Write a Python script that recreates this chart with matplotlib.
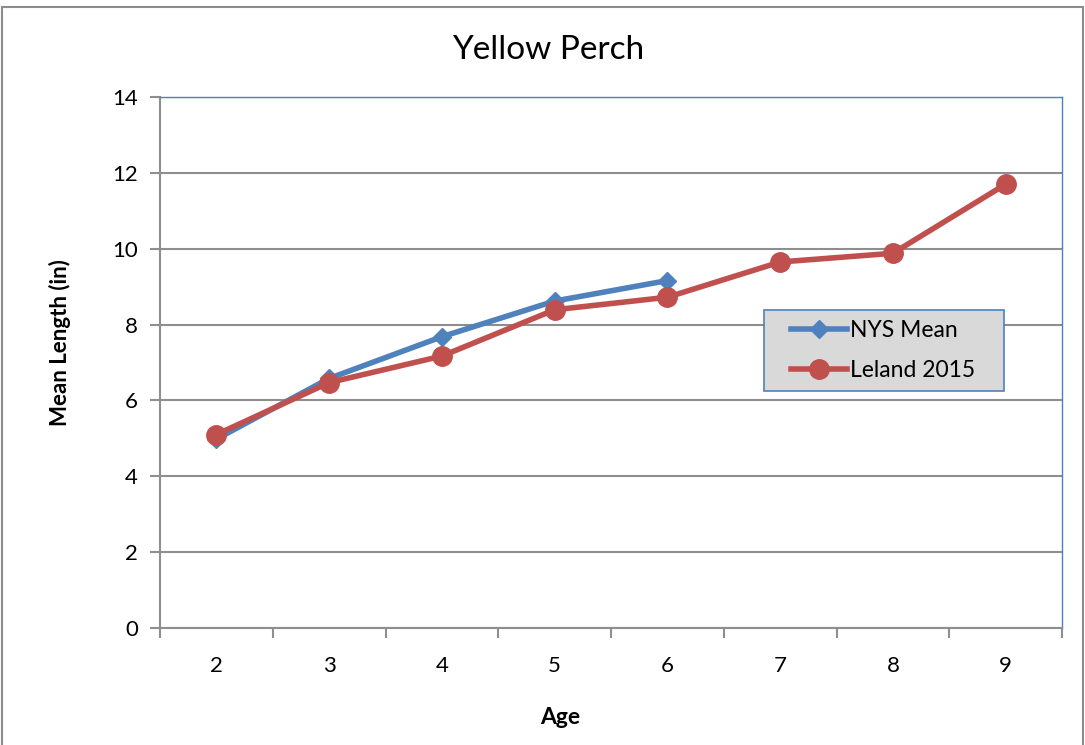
import numpy as np
import matplotlib.pyplot as plt
from matplotlib.patches import Rectangle
from matplotlib.lines import Line2D
from matplotlib.legend_handler import HandlerLine2D

plt.rcParams['font.family'] = ['Lato', 'DejaVu Sans']

# data
nys_age = [2, 3, 4, 5, 6]
nys_mean = [4.98, 6.58, 7.68, 8.62, 9.16]
leland_age = [2, 3, 4, 5, 6, 7, 8, 9]
leland_mean = [5.1, 6.47, 7.17, 8.39, 8.72, 9.65, 9.88, 11.7]
y_ticks = [0, 2, 4, 6, 8, 10, 12, 14]

blue = "#4F81BD"
red = "#C0504D"
grid_gray = "#8E8E8E"

W, H = 1085, 745
fig = plt.figure(figsize=(W / 100, H / 100), dpi=100)
ax = fig.add_axes([160/W, 1-628/H, (1062-160)/W, (628-97)/H])

# outer chart border
fig.patches.append(Rectangle((0.002, -0.01), 0.996, 1.0, transform=fig.transFigure,
                             fill=False, edgecolor="#8C8C8C", linewidth=1.5))

ax.plot(nys_age, nys_mean, color=blue, lw=4, marker="D", ms=9.5,
        markerfacecolor=blue, markeredgecolor=blue, label="NYS Mean", zorder=3)
ax.plot(leland_age, leland_mean, color=red, lw=4, marker="o", ms=14,
        markerfacecolor=red, markeredgecolor=red, label="Leland 2015", zorder=4)

ax.set_xlim(1.5, 9.5)
ax.set_ylim(0, 14)
ax.set_yticks(y_ticks)
ax.set_xticks(leland_age)
ax.set_xticks(np.arange(1.5, 9.6, 1), minor=True)
ax.tick_params(axis="x", which="major", length=0, labelsize=16, pad=20)
ax.tick_params(axis="x", which="minor", length=7, width=1.5, color=grid_gray, direction="out")
ax.tick_params(axis="y", length=7, width=1.5, color=grid_gray, labelsize=16, pad=9)

ax.grid(axis="y", color=grid_gray, lw=1.5)
ax.set_axisbelow(True)
for s in ["left", "bottom"]:
    ax.spines[s].set_color(grid_gray)
    ax.spines[s].set_linewidth(1.5)
for s in ["top", "right"]:
    ax.spines[s].set_color(blue)
    ax.spines[s].set_linewidth(1)

fig.text(548/W, 1-50/H, "Yellow Perch", fontsize=24, ha="center", va="center")
fig.text(560/W, 1-718/H, "Age", fontsize=16.5, fontweight="bold", ha="center", va="center")
fig.text(60/W, 1-343/H, "Mean Length (in)", fontsize=16, fontweight="bold",
         ha="center", va="center", rotation=90)

leg = ax.legend(loc="upper left",
                bbox_to_anchor=((764-160)/902, (628-310)/531, 240/902, 0),
                mode="expand", fontsize=16.5, frameon=True, fancybox=False,
                borderpad=0.45, borderaxespad=0, handlelength=3.15,
                handletextpad=0.17, labelspacing=0.8,
                handler_map={Line2D: HandlerLine2D(xpad=0.74)})
leg.get_frame().set_facecolor("#D9D9D9")
leg.get_frame().set_edgecolor(blue)
leg.get_frame().set_linewidth(1.2)
leg.get_frame().set_alpha(1)

fig.savefig("out.png", dpi=100)
